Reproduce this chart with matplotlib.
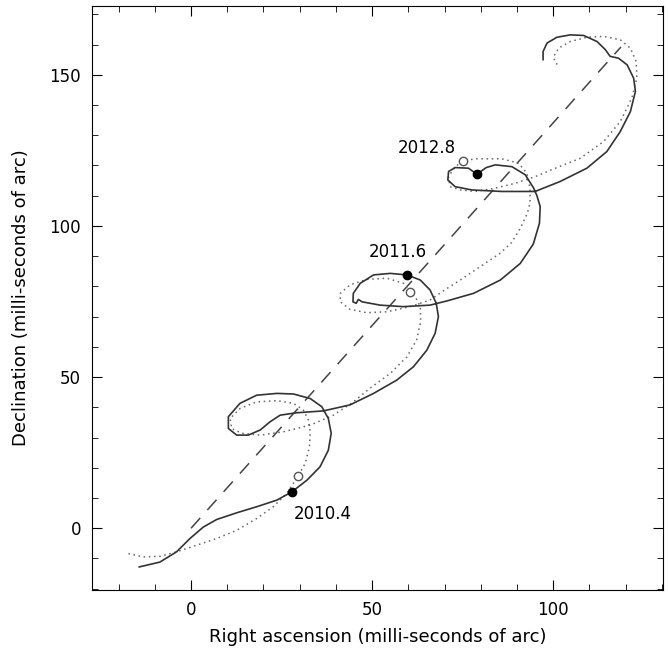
import matplotlib
matplotlib.use('Agg')
import matplotlib.pyplot as plt
from matplotlib.ticker import MultipleLocator

# Траектория звезды (сплошная линия), мили-секунды дуги
solid_ra = [-14.3, -8.6, -4.0, -0.3, 3.4, 7.1, 12.6, 18.1, 23.7, 27.8,
            32.0, 35.6, 37.9, 38.7, 37.9, 36.1, 32.9, 28.3, 23.7, 18.1,
            13.5, 10.3, 10.3, 12.6, 15.8, 19.1, 21.8, 24.6, 29.2, 36.5,
            43.9, 50.4, 56.8, 61.4, 65.1, 67.4, 68.3, 67.7, 66.0, 63.3,
            59.6, 55.0, 50.4, 46.7, 44.8, 44.7, 45.6, 46.2, 47.2, 52.2,
            58.6, 66.0, 71.0, 78.0, 85.4, 90.9, 94.5, 96.2, 96.4, 95.5,
            94.6, 92.3, 88.6, 84.0, 81.5, 78.9, 76.6, 72.9, 71.1, 70.9,
            72.9, 77.5, 85.8, 95.0, 101.9, 109.3, 114.8, 118.5, 121.3, 122.7,
            122.2, 120.4, 118.0, 115.7, 114.4, 112.1, 108.4, 104.7, 101.0, 98.3,
            97.2, 97.2]
solid_dec = [-12.8, -11.2, -7.8, -3.4, 0.4, 2.9, 5.1, 7.1, 9.3, 12.0,
             15.9, 20.3, 25.8, 31.4, 36.3, 40.2, 42.9, 44.4, 44.6, 44.0,
             41.3, 36.9, 33.0, 30.8, 30.8, 32.5, 35.2, 37.4, 38.2, 38.8,
             40.8, 44.6, 49.0, 53.4, 58.9, 64.5, 70.0, 74.4, 78.8, 82.1,
             83.8, 84.3, 83.8, 81.0, 77.7, 74.9, 74.4, 75.7, 74.9, 73.8,
             73.3, 73.8, 75.3, 77.7, 82.1, 87.6, 94.0, 100.9, 106.4, 110.0,
             112.5, 116.9, 119.6, 120.2, 119.3, 117.1, 119.1, 119.3, 118.0, 115.2,
             113.0, 111.9, 111.4, 111.4, 114.7, 119.1, 124.6, 131.2, 137.8, 144.5,
             148.9, 153.3, 155.5, 156.1, 158.3, 161.0, 163.0, 163.2, 162.4, 160.5,
             157.7, 155.0]

# Модель без орбиты (пунктир)
dot_ra = [-17.3, -13.2, -8.6, -4.0, 1.6, 7.1, 12.6, 18.1, 22.7, 26.4,
          29.5, 31.5, 32.7, 32.9, 32.4, 31.0, 28.3, 23.7, 18.1, 13.5,
          10.8, 11.2, 14.0, 19.1, 25.5, 32.9, 39.3, 44.5, 49.4, 55.0,
          59.6, 62.3, 63.4, 63.3, 61.9, 60.5, 58.7, 54.1, 48.5, 43.9,
          41.2, 41.2, 43.9, 48.5, 54.1, 60.5, 66.0, 70.0, 74.3, 79.8,
          85.4, 88.5, 90.8, 92.8, 93.6, 93.6, 92.7, 90.4, 85.8, 78.5,
          75.2, 72.9, 71.1, 71.5, 74.3, 78.5, 84.0, 89.5, 95.0, 100.6,
          107.5, 113.9, 118.5, 121.7, 123.1, 122.9, 121.3, 118.5, 113.9, 109.3,
          104.7, 101.5, 100.1, 100.6, 101.9]
dot_dec = [-8.4, -9.5, -9.3, -7.8, -5.6, -3.4, -0.7, 3.2, 7.1, 11.5,
           17.2, 21.4, 26.9, 31.9, 35.8, 39.1, 41.3, 42.2, 41.8, 39.6,
           36.3, 33.0, 31.4, 30.8, 31.9, 34.1, 37.4, 41.5, 46.3, 51.2,
           56.7, 62.3, 68.3, 73.3, 76.6, 78.2, 81.0, 82.7, 82.3, 80.5,
           77.7, 74.9, 72.4, 71.3, 71.6, 73.3, 75.5, 78.8, 82.1, 86.5,
           91.0, 94.5, 99.0, 104.0, 107.5, 112.5, 117.5, 120.8, 122.2, 122.2,
           121.5, 119.6, 116.3, 113.0, 111.9, 111.4, 112.5, 114.1, 116.3, 119.1,
           122.4, 127.9, 134.5, 142.3, 148.9, 154.4, 158.8, 161.6, 162.7, 162.4,
           161.0, 158.8, 156.0, 153.9, 152.8]

# Собственное движение (штриховая линия)
pm_ra = [0.0, 118.7]
pm_dec = [0.0, 159.2]

# Даты наблюдений
epochs = ['2010.4', '2011.6', '2012.8']
filled_ra = [27.8, 59.6, 78.9]
filled_dec = [12.0, 83.8, 117.1]
open_ra = [29.5, 60.5, 75.2]
open_dec = [17.2, 78.2, 121.5]
label_ra = [36.5, 57.0, 65.0]
label_dec = [4.6, 91.5, 125.8]

plt.rcParams['font.family'] = ['DejaVu Sans']

fig = plt.figure(figsize=(6.68, 6.5), dpi=100)
ax = fig.add_axes([0.138, 0.092, 0.855, 0.899])

ax.plot(pm_ra, pm_dec, color='#444444', lw=1.1, dashes=(9, 7))
ax.plot(dot_ra, dot_dec, color='#666666', lw=1.1, dashes=(1, 2.4))
ax.plot(solid_ra, solid_dec, color='#333333', lw=1.2)
ax.plot(open_ra, open_dec, 'o', ms=6, mfc='white', mec='#555555', mew=1.0)
ax.plot(filled_ra, filled_dec, 'o', ms=6, color='black')

for t, x, y in zip(epochs, label_ra, label_dec):
    ax.text(x, y, t, fontsize=12, ha='center', va='center')

ax.set_xlim(-27.3, 130.4)
ax.set_ylim(-20.5, 172.8)
ax.xaxis.set_major_locator(MultipleLocator(50))
ax.xaxis.set_minor_locator(MultipleLocator(10))
ax.yaxis.set_major_locator(MultipleLocator(50))
ax.yaxis.set_minor_locator(MultipleLocator(10))
ax.tick_params(which='both', direction='in', top=True, right=True, labelsize=12, pad=8)
ax.tick_params(which='major', length=7)
ax.tick_params(which='minor', length=4)

ax.set_xlabel('Right ascension (milli-seconds of arc)', fontsize=13, labelpad=6)
ax.set_ylabel('Declination (milli-seconds of arc)', fontsize=13, labelpad=14)

fig.savefig('out.png', dpi=100)
